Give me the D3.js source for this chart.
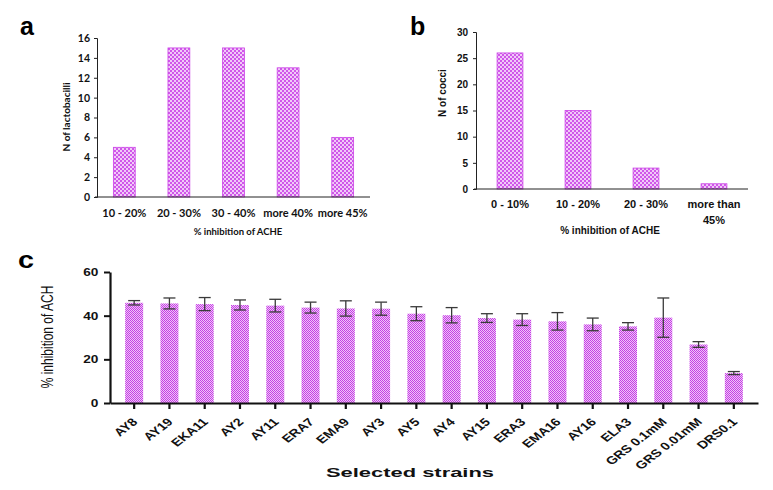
<!DOCTYPE html>
<html><head><meta charset="utf-8">
<script src="https://cdn.jsdelivr.net/npm/d3@7"></script>
<style>
body{margin:0;background:#fff;}
svg{display:block;}
</style></head>
<body>
<svg id="chart" width="773" height="490"></svg>
<script>
// ---------- data ----------
const catsA = ["10 - 20%", "20 - 30%", "30 - 40%", "more 40%", "more 45%"];
const valsA = [5, 15, 15, 13, 6];
const ticksA = [0, 2, 4, 6, 8, 10, 12, 14, 16];

const catsB = [["0 - 10%"], ["10 - 20%"], ["20 - 30%"], ["more than", "45%"]];
const valsB = [26, 15, 4, 1];
const ticksB = [0, 5, 10, 15, 20, 25, 30];

const strainsC = ["AY8","AY19","EKA11","AY2","AY11","ERA7","EMA9","AY3","AY5","AY4","AY15","ERA3","EMA16","AY16","ELA3","GRS 0.1mM","GRS 0.01mM","DRS0.1"];
const meansC = [45.9, 45.6, 45.3, 44.9, 44.6, 43.7, 43.3, 43.2, 40.9, 40.2, 38.9, 38.2, 37.4, 36.0, 35.1, 39.1, 26.8, 13.7];
const errsC  = [1.0, 2.5, 3.0, 2.3, 2.9, 2.5, 3.5, 3.0, 3.2, 3.5, 2.0, 2.7, 4.0, 2.9, 1.7, 9.0, 1.3, 0.7];
const ticksC = [0, 20, 40, 60];

// ---------- setup ----------
const svg = d3.select("#chart");
const defs = svg.append("defs");
function checker(id, cell, dark, light) {
  const p = defs.append("pattern").attr("id", id).attr("patternUnits", "userSpaceOnUse")
    .attr("width", cell * 2).attr("height", cell * 2);
  p.append("rect").attr("width", cell * 2).attr("height", cell * 2).attr("fill", light);
  p.append("rect").attr("width", cell).attr("height", cell).attr("fill", dark);
  p.append("rect").attr("x", cell).attr("y", cell).attr("width", cell).attr("height", cell).attr("fill", dark);
}
checker("chkAB", 2, "#d057ea", "#f1c9f8");
checker("chkC", 1, "#c43ee4", "#f0c4f8");

const fontA = "Lato, 'Open Sans', sans-serif";
const fontB = "'Liberation Sans', Arial, sans-serif";

// ---------- panel a ----------
{
  const x = d3.scaleBand().domain(catsA).range([97, 370]).paddingInner(0.6).paddingOuter(0.3);
  const y = d3.scaleLinear().domain([0, 16]).range([197, 38]);
  const g = svg.append("g");
  g.selectAll("rect.bar").data(valsA).join("rect").attr("class", "bar")
    .attr("x", (d, i) => x(catsA[i])).attr("width", x.bandwidth())
    .attr("y", d => y(d)).attr("height", d => y(0) - y(d))
    .attr("fill", "url(#chkAB)").attr("stroke", "#cc44e8").attr("stroke-width", 0.8);
  const ya = g.append("g").attr("transform", "translate(97,0)")
    .call(d3.axisLeft(y).tickValues(ticksA).tickSize(3).tickPadding(4));
  ya.select(".domain").attr("stroke", "#222");
  ya.selectAll(".tick line").attr("stroke", "#222");
  ya.selectAll("text").attr("font-family", fontA).attr("font-weight", "bold").attr("font-size", 10.5).attr("fill", "#111");
  const xa = g.append("g").attr("transform", "translate(0,197)")
    .call(d3.axisBottom(x).tickSize(0).tickPadding(12).tickSizeOuter(0));
  xa.select(".domain").attr("stroke", "#222").attr("d", "M95,0H370");
  xa.selectAll("text").attr("font-family", fontA).attr("font-weight", "bold").attr("font-size", 11).attr("fill", "#111");
  g.append("text").attr("x", 238).attr("y", 235).attr("text-anchor", "middle")
    .attr("font-family", fontA).attr("font-weight", "bold").attr("font-size", 9.5).attr("fill", "#111")
    .text("% inhibition of ACHE");
  g.append("text").attr("transform", "translate(70,117) rotate(-90)").attr("text-anchor", "middle")
    .attr("font-family", fontA).attr("font-weight", "bold").attr("font-size", 10).attr("fill", "#111")
    .text("N of lactobacilli");
  g.append("text").attr("x", 20).attr("y", 35).attr("font-family", fontB).attr("font-weight", "bold")
    .attr("font-size", 25).text("a");
}

// ---------- panel b ----------
{
  const names = catsB.map(d => d.join(" "));
  const x = d3.scaleBand().domain(names).range([476, 748]).paddingInner(0.62).paddingOuter(0.31);
  const y = d3.scaleLinear().domain([0, 30]).range([189, 32]);
  const g = svg.append("g");
  g.selectAll("rect.bar").data(valsB).join("rect").attr("class", "bar")
    .attr("x", (d, i) => x(names[i])).attr("width", x.bandwidth())
    .attr("y", d => y(d)).attr("height", d => y(0) - y(d))
    .attr("fill", "url(#chkAB)").attr("stroke", "#cc44e8").attr("stroke-width", 0.8);
  const ya = g.append("g").attr("transform", "translate(476,0)")
    .call(d3.axisLeft(y).tickValues(ticksB).tickSize(3).tickPadding(5));
  ya.select(".domain").attr("stroke", "#222");
  ya.selectAll(".tick line").attr("stroke", "#222");
  ya.selectAll("text").attr("font-family", fontB).attr("font-weight", "bold").attr("font-size", 10).attr("fill", "#111");
  const xa = g.append("g").attr("transform", "translate(0,189)")
    .call(d3.axisBottom(x).tickSize(0).tickPadding(0).tickSizeOuter(0));
  xa.select(".domain").attr("stroke", "#222").attr("d", "M474,0H748");
  xa.selectAll("text").each(function(d, i) {
    const t = d3.select(this).text(null).attr("y", 0).attr("dy", null)
      .attr("font-family", fontB).attr("font-weight", "bold").attr("font-size", 11).attr("fill", "#111");
    catsB[i].forEach((line, k) => {
      t.append("tspan").attr("x", 0).attr("y", 19 + k * 16).text(line);
    });
  });
  g.append("text").attr("x", 610).attr("y", 234).attr("text-anchor", "middle")
    .attr("font-family", fontB).attr("font-weight", "bold").attr("font-size", 10).attr("fill", "#111")
    .text("% inhibition of ACHE");
  g.append("text").attr("transform", "translate(446,93) rotate(-90)").attr("text-anchor", "middle")
    .attr("font-family", fontB).attr("font-weight", "bold").attr("font-size", 10).attr("fill", "#111")
    .text("N of cocci");
  g.append("text").attr("x", 410).attr("y", 35).attr("font-family", fontB).attr("font-weight", "bold")
    .attr("font-size", 25).text("b");
}

// ---------- panel c ----------
{
  const x = d3.scaleBand().domain(strainsC).range([110, 758]).paddingInner(0.49).paddingOuter(0.43);
  const y = d3.scaleLinear().domain([0, 60]).range([403, 272]);
  const g = svg.append("g");
  g.selectAll("rect.bar").data(meansC).join("rect").attr("class", "bar")
    .attr("x", (d, i) => x(strainsC[i])).attr("width", x.bandwidth())
    .attr("y", d => y(d)).attr("height", d => y(0) - y(d))
    .attr("fill", "url(#chkC)");
  const cap = 6;
  const eb = g.selectAll("g.err").data(meansC).join("g").attr("class", "err")
    .attr("stroke", "#3a3a3a").attr("stroke-width", 1.3);
  eb.each(function(d, i) {
    const cx = x(strainsC[i]) + x.bandwidth() / 2;
    const e = d3.select(this);
    e.append("line").attr("x1", cx).attr("x2", cx).attr("y1", y(d - errsC[i])).attr("y2", y(d + errsC[i]));
    e.append("line").attr("x1", cx - cap).attr("x2", cx + cap).attr("y1", y(d + errsC[i])).attr("y2", y(d + errsC[i]));
    e.append("line").attr("x1", cx - cap).attr("x2", cx + cap).attr("y1", y(d - errsC[i])).attr("y2", y(d - errsC[i]));
  });
  const ya = g.append("g").attr("transform", "translate(110,0)")
    .call(d3.axisLeft(y).tickValues(ticksC).tickSize(6).tickPadding(3).tickSizeOuter(0));
  ya.select(".domain").attr("stroke", "#111").attr("stroke-width", 2.2);
  ya.selectAll(".tick line").attr("stroke", "#111").attr("stroke-width", 2);
  ya.selectAll("text").attr("font-family", fontB).attr("font-weight", "bold").attr("font-size", 10.5)
    .attr("fill", "#111").attr("transform", "scale(1.3,1)");
  const xa = g.append("g").attr("transform", "translate(0,403)")
    .call(d3.axisBottom(x).tickSize(6).tickSizeOuter(0));
  xa.select(".domain").attr("stroke", "#111").attr("stroke-width", 2.2);
  xa.selectAll(".tick line").attr("stroke", "#111").attr("stroke-width", 2.2);
  xa.selectAll("text").attr("y", null).attr("x", null).attr("dy", "0.72em")
    .attr("text-anchor", "end").attr("transform", "translate(-3,14) scale(1.3,1) rotate(-45)")
    .attr("font-family", fontB).attr("font-weight", "bold").attr("font-size", 11).attr("fill", "#111");
  g.append("text").attr("x", 410).attr("y", 477).attr("text-anchor", "middle")
    .attr("textLength", 168).attr("lengthAdjust", "spacingAndGlyphs")
    .attr("font-family", fontB).attr("font-weight", "bold").attr("font-size", 12.5).attr("fill", "#111")
    .text("Selected strains");
  g.append("text").attr("transform", "translate(53,337) scale(1.3,1) rotate(-90)").attr("text-anchor", "middle")
    .attr("font-family", fontB).attr("font-size", 12).attr("fill", "#111")
    .text("% inhibition of ACH");
  g.append("text").attr("transform", "translate(18,268) scale(1.2,1)").attr("font-family", fontB).attr("font-weight", "bold")
    .attr("font-size", 24).text("c");
}
</script>
</body></html>
